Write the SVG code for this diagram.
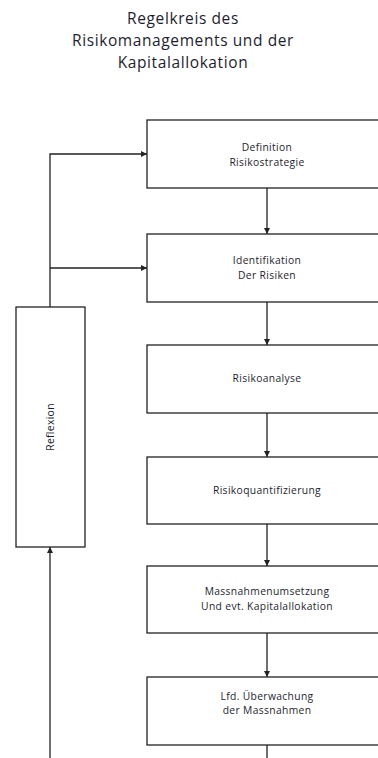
<svg xmlns="http://www.w3.org/2000/svg" width="378" height="758" viewBox="0 0 378 758">
<style>
.box{fill:#fff;stroke:#222;stroke-width:1.3}
.t{font-family:"Open Sans","Liberation Sans",sans-serif;font-size:10.3px;letter-spacing:0.35px;fill:#1e1e2e;text-anchor:middle}
.title{font-family:"Open Sans","Liberation Sans",sans-serif;font-size:15.5px;letter-spacing:0.6px;fill:#1e1e2e;text-anchor:middle}
.c{fill:none;stroke:#222;stroke-width:1.3}
</style>
<defs>
<marker id="ah" viewBox="0 0 10 10" refX="10" refY="5" markerWidth="6" markerHeight="6" markerUnits="userSpaceOnUse" orient="auto">
<path d="M0,0 L10,5 L0,10 z" fill="#222"/>
</marker>
</defs>
<g id="title">
<text class="title" x="183" y="24">Regelkreis des</text>
<text class="title" x="183" y="46">Risikomanagements und der</text>
<text class="title" x="183" y="68">Kapitalallokation</text>
</g>
<g id="connectors">
<path class="c" d="M267,188 V234" marker-end="url(#ah)"/>
<path class="c" d="M267,302 V345" marker-end="url(#ah)"/>
<path class="c" d="M267,413 V457" marker-end="url(#ah)"/>
<path class="c" d="M267,524 V566" marker-end="url(#ah)"/>
<path class="c" d="M267,633 V677" marker-end="url(#ah)"/>
<path class="c" d="M267,745 V758"/>
<path class="c" d="M50,307 V154 H147" marker-end="url(#ah)"/>
<path class="c" d="M50,268 H147" marker-end="url(#ah)"/>
<path class="c" d="M50,758 V547" marker-end="url(#ah)"/>
</g>
<g id="n1"><rect class="box" x="147" y="120" width="240" height="68"/>
<text class="t" x="267" y="151">Definition</text><text class="t" x="267" y="166">Risikostrategie</text></g>
<g id="n2"><rect class="box" x="147" y="234" width="240" height="68"/>
<text class="t" x="267" y="264">Identifikation</text><text class="t" x="267" y="279">Der Risiken</text></g>
<g id="n3"><rect class="box" x="147" y="345" width="240" height="68"/>
<text class="t" x="267" y="382">Risikoanalyse</text></g>
<g id="n4"><rect class="box" x="147" y="457" width="240" height="67"/>
<text class="t" x="267" y="494">Risikoquantifizierung</text></g>
<g id="n5"><rect class="box" x="147" y="566" width="240" height="67"/>
<text class="t" x="267" y="595">Massnahmenumsetzung</text><text class="t" x="267" y="610">Und evt. Kapitalallokation</text></g>
<g id="n6"><rect class="box" x="147" y="677" width="240" height="68"/>
<text class="t" x="267" y="700">Lfd. Überwachung</text><text class="t" x="267" y="714">der Massnahmen</text></g>
<g id="reflexion"><rect class="box" x="16" y="307" width="69" height="240"/>
<text class="t" transform="translate(53.5,427) rotate(-90)">Reflexion</text></g>
</svg>
